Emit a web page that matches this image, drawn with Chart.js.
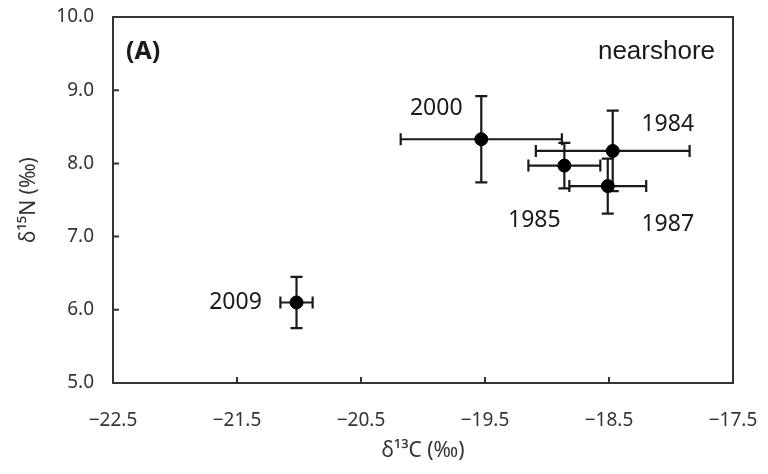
<!DOCTYPE html>
<html>
<head>
<meta charset="utf-8">
<script src="https://cdn.jsdelivr.net/npm/chart.js@4/dist/chart.umd.min.js"></script>
<style>
  html, body { margin: 0; padding: 0; background: #fff; }
  #wrap { width: 768px; height: 474px; }
</style>
</head>
<body>
<div id="wrap"><canvas id="chart" width="768" height="474"></canvas></div>
<script>
// Données (δ13C, δ15N, écarts-types)
const annees = ['2000', '1984', '1985', '1987', '2009'];
const d13C   = [-19.53, -18.47, -18.86, -18.51, -21.02];
const d15N   = [8.33, 8.17, 7.97, 7.69, 6.10];
const sdC    = [0.65, 0.62, 0.29, 0.31, 0.13];
const sdN    = [0.59, 0.55, 0.31, 0.375, 0.35];
const ticksX = [-22.5, -21.5, -20.5, -19.5, -18.5, -17.5];
const ticksY = [5.0, 6.0, 7.0, 8.0, 9.0, 10.0];

// décalage des étiquettes d'année par rapport au point (px)
const decalages = [[-45, -31], [55, -27], [-30, 55], [60, 38], [-61, 0]];

const INK = '#1a1a1a';
const AXE = '#333333';
const POLICE = '"Noto Sans", "DejaVu Sans", sans-serif';

// barres d'erreur + cadre + ticks intérieurs + étiquettes
const habillage = {
  id: 'habillage',
  beforeDatasetsDraw(chart) {
    const { ctx, scales: { x, y } } = chart;
    ctx.save();
    ctx.strokeStyle = INK;
    ctx.lineWidth = 2.2;
    const cap = 6;
    for (let i = 0; i < d13C.length; i++) {
      const px = x.getPixelForValue(d13C[i]);
      const py = y.getPixelForValue(d15N[i]);
      const x1 = x.getPixelForValue(d13C[i] - sdC[i]);
      const x2 = x.getPixelForValue(d13C[i] + sdC[i]);
      const y1 = y.getPixelForValue(d15N[i] + sdN[i]);
      const y2 = y.getPixelForValue(d15N[i] - sdN[i]);
      ctx.beginPath();
      ctx.moveTo(x1, py); ctx.lineTo(x2, py);
      ctx.moveTo(x1, py - cap); ctx.lineTo(x1, py + cap);
      ctx.moveTo(x2, py - cap); ctx.lineTo(x2, py + cap);
      ctx.moveTo(px, y1); ctx.lineTo(px, y2);
      ctx.moveTo(px - cap, y1); ctx.lineTo(px + cap, y1);
      ctx.moveTo(px - cap, y2); ctx.lineTo(px + cap, y2);
      ctx.stroke();
    }
    ctx.restore();
  },
  afterDraw(chart) {
    const { ctx, chartArea: a, scales: { x, y } } = chart;
    ctx.save();
    // cadre
    ctx.strokeStyle = AXE;
    ctx.lineWidth = 2;
    ctx.strokeRect(a.left, a.top, a.right - a.left, a.bottom - a.top);
    // ticks vers l'intérieur
    ctx.beginPath();
    ticksY.forEach(v => {
      const py = y.getPixelForValue(v);
      ctx.moveTo(a.left, py); ctx.lineTo(a.left + 6, py);
    });
    ticksX.forEach(v => {
      const px = x.getPixelForValue(v);
      ctx.moveTo(px, a.bottom); ctx.lineTo(px, a.bottom - 6);
    });
    ctx.stroke();

    // étiquettes d'année
    ctx.fillStyle = INK;
    ctx.font = '23px ' + POLICE;
    ctx.textAlign = 'center';
    ctx.textBaseline = 'middle';
    annees.forEach((lab, i) => {
      const px = x.getPixelForValue(d13C[i]) + decalages[i][0];
      const py = y.getPixelForValue(d15N[i]) + decalages[i][1];
      ctx.fillText(lab, px, py);
    });

    // (A) et nearshore
    ctx.font = 'bold 25px ' + POLICE;
    ctx.textAlign = 'left';
    ctx.fillText('(A)', a.left + 13, a.top + 35);
    ctx.font = '26px "Liberation Sans", Arial, sans-serif';
    ctx.textAlign = 'right';
    ctx.fillText('nearshore', a.right - 18, a.top + 35);
    ctx.restore();
  }
};

new Chart(document.getElementById('chart'), {
  type: 'scatter',
  data: {
    datasets: [{
      data: d13C.map((v, i) => ({ x: v, y: d15N[i] })),
      backgroundColor: '#000',
      borderColor: '#000',
      pointRadius: 6.5,
      pointHoverRadius: 6.5,
    }],
  },
  options: {
    responsive: false,
    animation: false,
    events: [],
    layout: { padding: { top: 17, right: 35, left: 0, bottom: 0 } },
    plugins: {
      legend: { display: false },
      tooltip: { enabled: false },
    },
    scales: {
      x: {
        type: 'linear',
        min: -22.5,
        max: -17.5,
        afterBuildTicks: s => { s.ticks = ticksX.map(v => ({ value: v })); },
        afterFit: s => { s.height = 91; s.paddingLeft = 0; s.paddingRight = 0; },
        grid: { display: false },
        border: { display: false },
        ticks: {
          color: AXE,
          padding: 18,
          font: { family: POLICE, size: 19 },
          callback: v => '\u2212' + Math.abs(v).toFixed(1),
        },
        title: {
          display: true,
          text: 'δ¹³C (‰)',
          color: AXE,
          font: { family: POLICE, size: 21 },
          padding: { top: 0, bottom: 10 },
        },
      },
      y: {
        type: 'linear',
        min: 5,
        max: 10,
        afterBuildTicks: s => { s.ticks = ticksY.map(v => ({ value: v })); },
        afterFit: s => { s.width = 113; s.paddingTop = 0; s.paddingBottom = 0; },
        grid: { display: false },
        border: { display: false },
        ticks: {
          color: AXE,
          padding: 11,
          font: { family: POLICE, size: 19 },
          callback: v => v.toFixed(1),
        },
        title: {
          display: true,
          text: 'δ¹⁵N (‰)',
          color: AXE,
          font: { family: POLICE, size: 21 },
          padding: { top: 16, bottom: 0 },
        },
      },
    },
  },
  plugins: [habillage],
});
</script>
</body>
</html>
